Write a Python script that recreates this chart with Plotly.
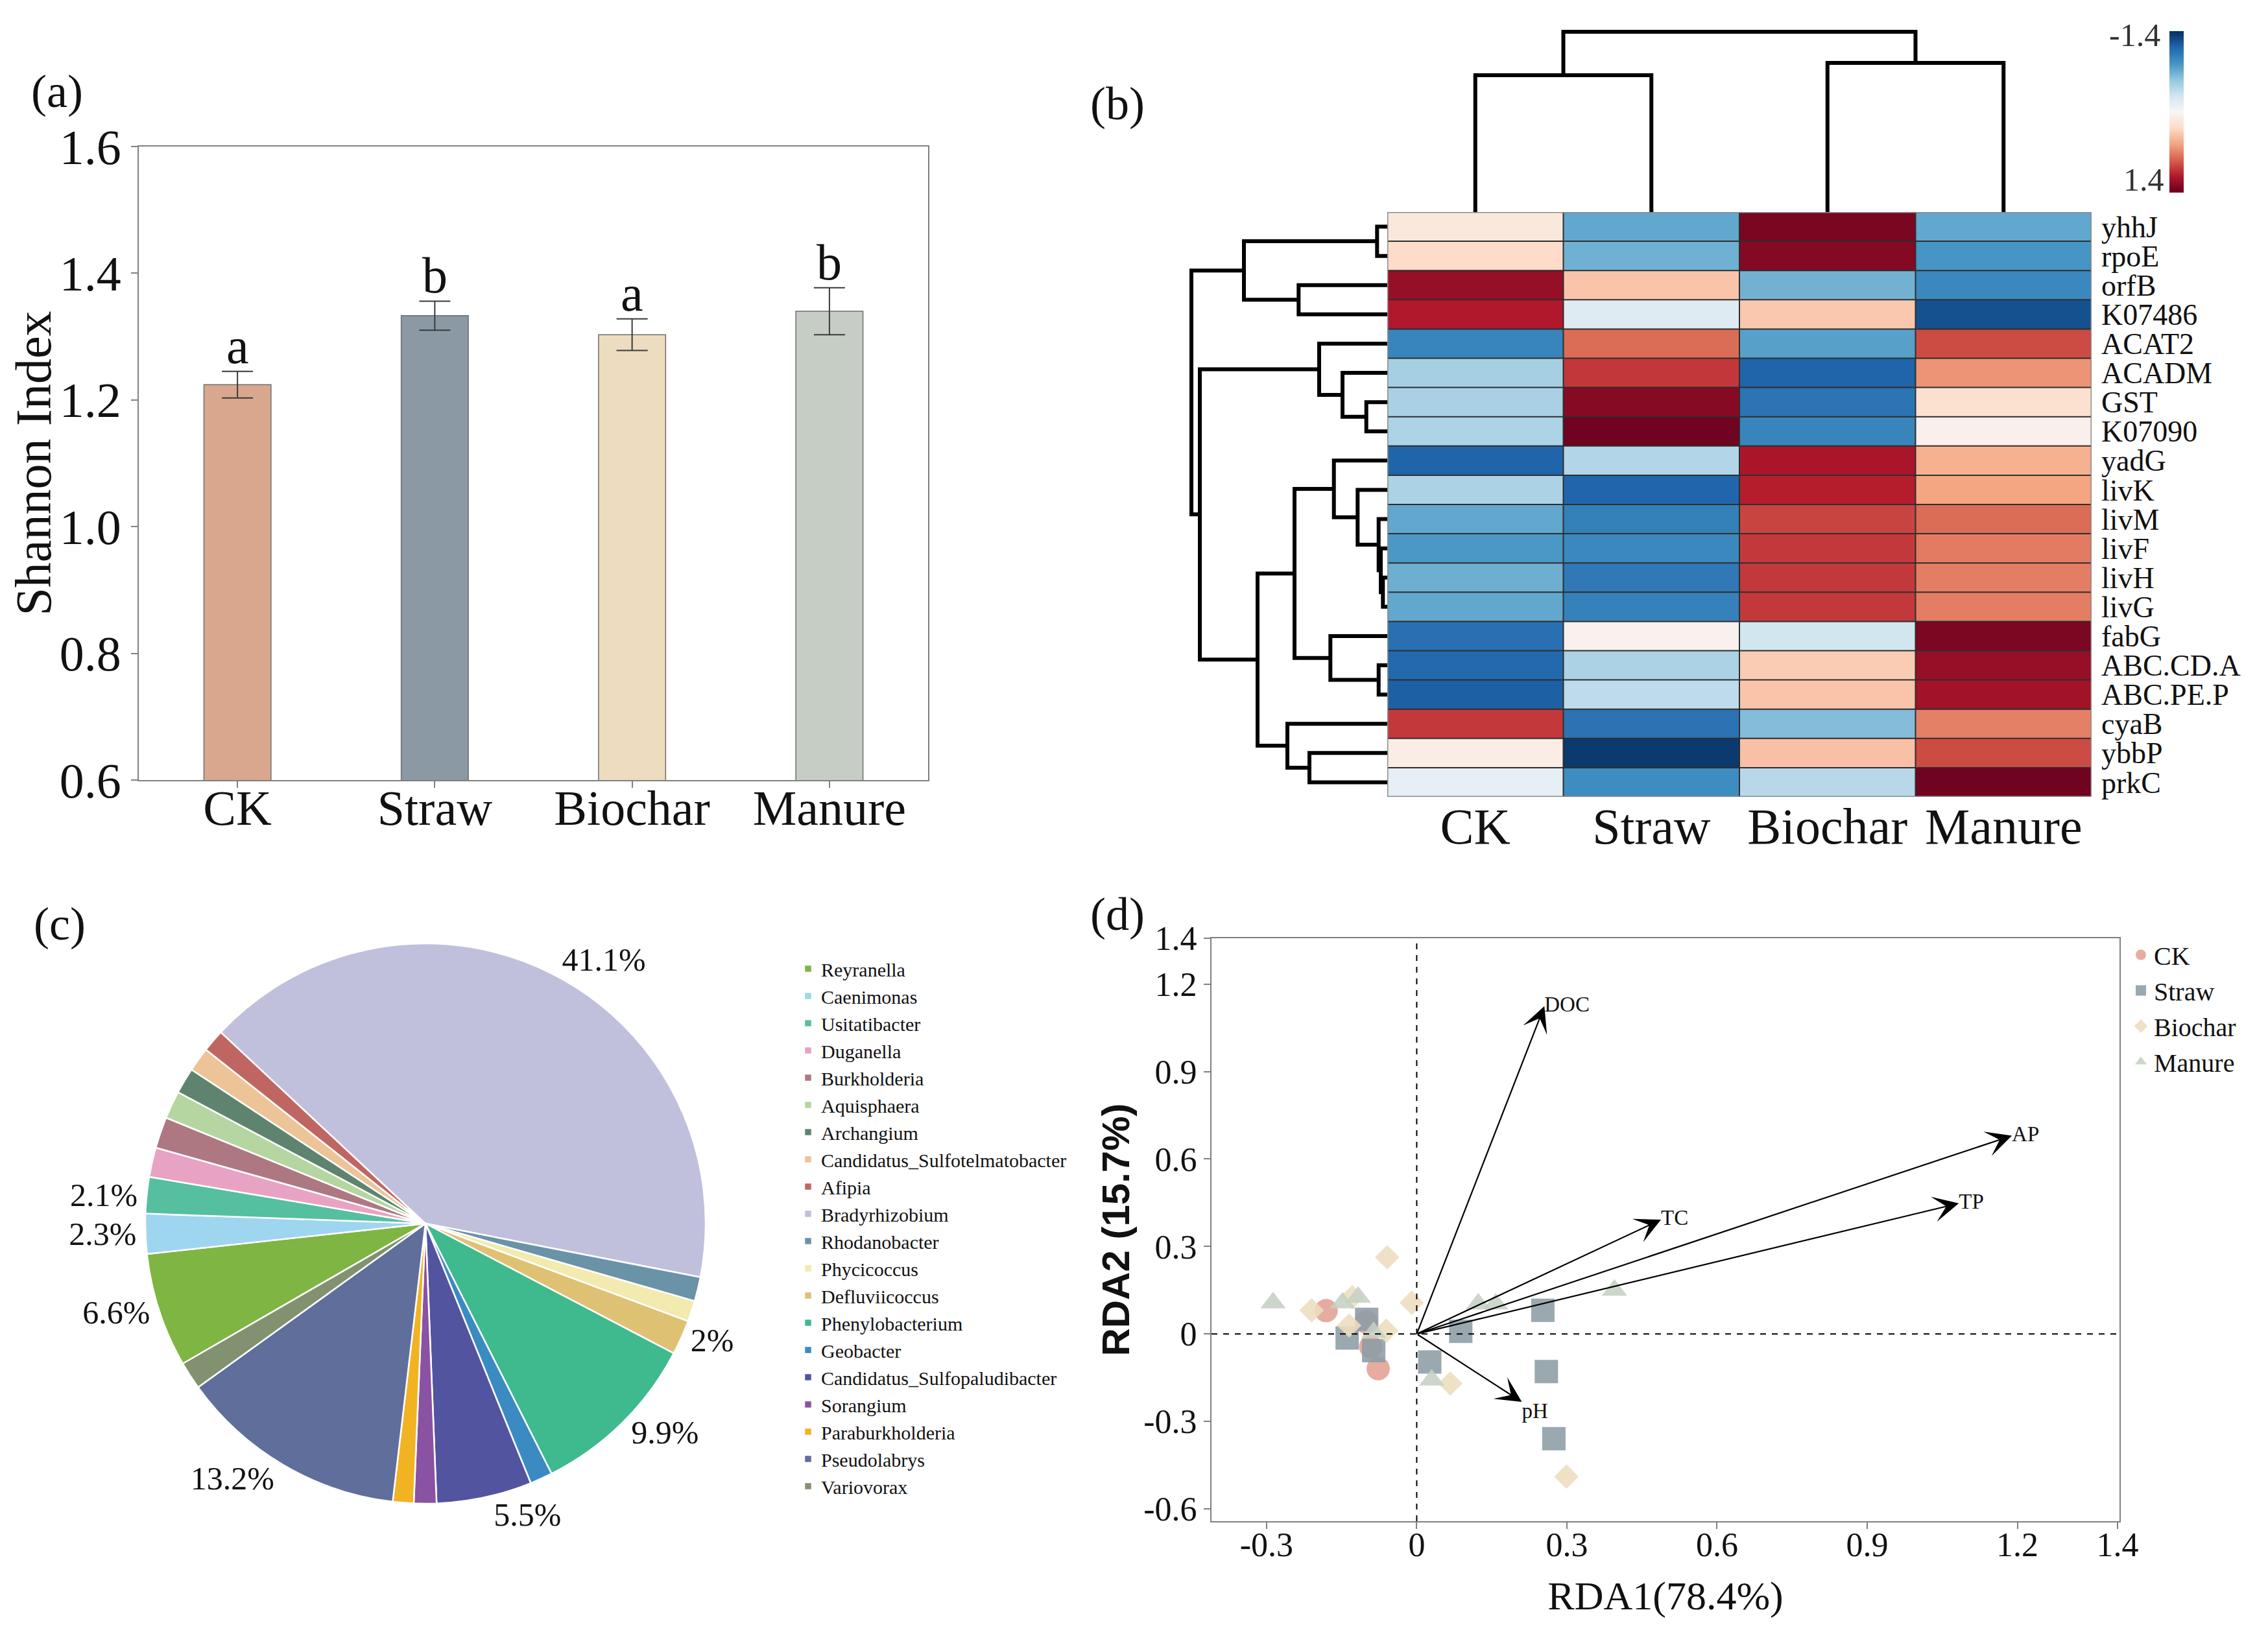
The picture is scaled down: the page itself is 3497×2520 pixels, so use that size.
import numpy as np
import plotly.graph_objects as go

W, H = 3497, 2520
OX, OY = 8, 8  # page body margin of the html page
SERIF = "Liberation Serif"


def fx(p):
    return (p - OX) / W


def fy(p):
    return 1 - (p - OY) / H


# ---------------- (a) Shannon index ----------------
treatments = ["CK", "Straw", "Biochar", "Manure"]
shannon_mean = [1.224, 1.333, 1.303, 1.340]
shannon_err = [0.021, 0.023, 0.025, 0.037]
shannon_letters = ["a", "b", "a", "b"]
bar_colors = ["#D8A78E", "#8A99A3", "#EDDCBF", "#C6CDC5"]

# ---------------- (b) heatmap ----------------
genes = ["yhhJ", "rpoE", "orfB", "K07486", "ACAT2", "ACADM", "GST", "K07090",
         "yadG", "livK", "livM", "livF", "livH", "livG", "fabG", "ABC.CD.A",
         "ABC.PE.P", "cyaB", "ybbP", "prkC"]
heat_columns = ["CK", "Straw", "Biochar", "Manure"]
heat_values = [
    [0.15, -0.73, 1.33, -0.73],
    [0.27, -0.68, 1.29, -0.83],
    [1.23, 0.40, -0.67, -0.91],
    [1.12, -0.18, 0.38, -1.23],
    [-0.93, 0.79, -0.77, 0.92],
    [-0.47, 1.00, -1.13, 0.63],
    [-0.46, 1.28, -1.03, 0.22],
    [-0.44, 1.37, -0.93, 0.07],
    [-1.13, -0.42, 1.15, 0.50],
    [-0.45, -1.12, 1.10, 0.56],
    [-0.73, -0.96, 0.95, 0.79],
    [-0.81, -0.91, 0.99, 0.73],
    [-0.69, -1.00, 0.99, 0.72],
    [-0.73, -0.95, 0.99, 0.72],
    [-1.06, 0.06, -0.27, 1.32],
    [-1.10, -0.45, 0.36, 1.22],
    [-1.15, -0.37, 0.40, 1.18],
    [0.99, -1.04, -0.61, 0.71],
    [0.10, -1.35, 0.42, 0.92],
    [-0.13, -0.88, -0.39, 1.37],
]
# linkage: (child a, child b, merge height); ints refer to earlier merges
gene_links = [
    ("yhhJ", "rpoE", 15.7),      # 0
    ("orfB", "K07486", 136.7),   # 1
    (0, 1, 221),                 # 2
    ("GST", "K07090", 32.3),     # 3
    ("ACADM", 3, 69),            # 4
    ("ACAT2", 4, 105),           # 5
    ("livH", "livG", 6.7),       # 6
    ("livF", 6, 10.0),           # 7
    ("livM", 7, 13.3),           # 8
    ("livK", 8, 45.7),           # 9
    ("yadG", 9, 82.3),           # 10
    ("ABC.CD.A", "ABC.PE.P", 13.3),  # 11
    ("fabG", 11, 87.7),          # 12
    (10, 12, 143),               # 13
    ("ybbP", "prkC", 120),       # 14
    ("cyaB", 14, 154),           # 15
    (13, 15, 200),               # 16
    (5, 16, 289),                # 17
    (2, 17, 302),                # 18
]
column_links = [
    ("CK", "Straw", 211),
    ("Biochar", "Manure", 230),
    (0, 1, 278),
]
colorbar_min, colorbar_max = -1.4, 1.4

# ---------------- (c) pie ----------------
genera = ["Reyranella", "Caenimonas", "Usitatibacter", "Duganella", "Burkholderia",
          "Aquisphaera", "Archangium", "Candidatus_Sulfotelmatobacter", "Afipia",
          "Bradyrhizobium", "Rhodanobacter", "Phycicoccus", "Defluviicoccus",
          "Phenylobacterium", "Geobacter", "Candidatus_Sulfopaludibacter",
          "Sorangium", "Paraburkholderia", "Pseudolabrys", "Variovorax"]
genus_abundance = [6.6, 2.3, 2.1, 1.7, 1.8, 1.6, 1.5, 1.4, 1.3, 41.1,
                   1.4, 1.2, 2.0, 9.9, 1.3, 5.5, 1.3, 1.2, 13.2, 1.6]
genus_pct_labels = ["6.6%", "2.3%", "2.1%", "", "", "", "", "", "", "41.1%",
                    "", "", "2%", "9.9%", "", "5.5%", "", "", "13.2%", ""]
genus_colors = ["#7FB542", "#9DD6EE", "#55BFA0", "#E8A3C4", "#AD7882",
                "#B5D6A0", "#5E8470", "#EDC497", "#C06662", "#C0C0DD",
                "#6A93A8", "#F2EAAE", "#DFC173", "#3FB98E", "#3A8BC2",
                "#5254A0", "#8A52A2", "#F2B323", "#5F6E9B", "#829170"]

# ---------------- (d) RDA ----------------
ck_rda1 = [-0.181, -0.101, -0.092, -0.077]
ck_rda2 = [0.080, 0.041, -0.044, -0.119]
straw_rda1 = [-0.100, -0.139, -0.086, 0.026, 0.088, 0.252, 0.259, 0.274]
straw_rda2 = [0.050, -0.014, -0.057, -0.096, 0.009, 0.081, -0.129, -0.359]
biochar_rda1 = [-0.059, -0.210, -0.135, -0.129, -0.010, -0.061, 0.067, 0.299]
biochar_rda2 = [0.263, 0.081, 0.029, 0.126, 0.107, 0.011, -0.170, -0.489]
manure_rda1 = [-0.287, -0.148, -0.117, -0.086, 0.030, 0.123, 0.158, 0.395]
manure_rda2 = [0.107, 0.107, 0.126, 0.005, -0.158, 0.103, 0.103, 0.150]
env_factors = ["DOC", "TC", "AP", "TP", "pH"]
env_rda1 = [0.255, 0.488, 1.189, 1.083, 0.210]
env_rda2 = [1.124, 0.392, 0.680, 0.448, -0.233]
rda_x_ticks = [-0.3, 0, 0.3, 0.6, 0.9, 1.2, 1.4]
rda_y_ticks = [-0.6, -0.3, 0, 0.3, 0.6, 0.9, 1.2]

RDBU = [[0.0, "#053061"], [0.1, "#2166ac"], [0.2, "#4393c3"], [0.3, "#92c5de"],
        [0.4, "#d1e5f0"], [0.5, "#f7f7f7"], [0.6, "#fddbc7"], [0.7, "#f4a582"],
        [0.8, "#d6604d"], [0.9, "#b2182b"], [1.0, "#67001f"]]


def dendrogram_paths(links, leaf_order):
    pos = {name: i for i, name in enumerate(leaf_order)}
    hgt = {name: 0.0 for name in leaf_order}
    p_list, h_list = [], []
    for idx, (a, b, h) in enumerate(links):
        pa, pb = pos[a], pos[b]
        ha, hb = hgt[a], hgt[b]
        p_list += [pa, pa, pb, pb, None]
        h_list += [ha, h, h, hb, None]
        pos[idx] = (pa + pb) / 2
        hgt[idx] = h
    return p_list, h_list


fig = go.Figure()

# (a) bars
fig.add_trace(go.Bar(
    x=treatments, y=shannon_mean, width=0.34,
    marker=dict(color=bar_colors, line=dict(color="#6E6E6E", width=1.5)),
    error_y=dict(type="data", array=shannon_err, color="#3A3A3A", thickness=2, width=24),
    xaxis="x", yaxis="y", showlegend=False))

# (b) heatmap
fig.add_trace(go.Heatmap(
    z=heat_values, x=list(range(len(heat_columns))), y=list(range(len(genes))),
    colorscale=RDBU, zmin=colorbar_min, zmax=colorbar_max, showscale=False,
    xaxis="x2", yaxis="y2"))

col_p, col_h = dendrogram_paths(column_links, heat_columns)
fig.add_trace(go.Scatter(x=col_p, y=col_h, mode="lines",
                         line=dict(color="black", width=6),
                         xaxis="x3", yaxis="y3", showlegend=False, hoverinfo="skip"))
row_p, row_h = dendrogram_paths(gene_links, genes)
fig.add_trace(go.Scatter(x=row_h, y=row_p, mode="lines",
                         line=dict(color="black", width=6),
                         xaxis="x4", yaxis="y4", showlegend=False, hoverinfo="skip"))

cb_vals = np.linspace(colorbar_min, colorbar_max, 201)
fig.add_trace(go.Heatmap(
    z=[[v] for v in cb_vals], x=[0], y=cb_vals, colorscale=RDBU,
    zmin=colorbar_min, zmax=colorbar_max, showscale=False,
    xaxis="x6", yaxis="y6", hoverinfo="skip"))

# (c) pie
fig.add_trace(go.Pie(
    labels=genera, values=genus_abundance, sort=False, direction="clockwise",
    rotation=240, text=genus_pct_labels, textinfo="text", textposition="outside",
    textfont=dict(family=SERIF, size=50, color="#111111"),
    marker=dict(colors=genus_colors, line=dict(color="white", width=2.5)),
    domain=dict(x=[fx(224), fx(1088)], y=[fy(2319), fy(1455)]),
    legend="legend", showlegend=True, automargin=False))

# (d) RDA
rda_sets = [
    ("CK", ck_rda1, ck_rda2, "circle", 36, "#E2A094"),
    ("Straw", straw_rda1, straw_rda2, "square", 36, "#8C9CA5"),
    ("Biochar", biochar_rda1, biochar_rda2, "diamond", 29, "#EDDDBE"),
    ("Manure", manure_rda1, manure_rda2, "triangle-up", 34, "#C5D0C4"),
]
for name, xs, ys, sym, size, col in rda_sets:
    fig.add_trace(go.Scatter(
        x=xs, y=ys, mode="markers", name=name,
        marker=dict(symbol=sym, size=size, color=col, opacity=0.88, line=dict(width=0)),
        xaxis="x5", yaxis="y5", legend="legend2"))

fig.add_trace(go.Scatter(
    x=env_rda1, y=env_rda2, mode="text", text=env_factors,
    textposition=["middle right", "middle right", "middle right", "middle right", "bottom right"],
    textfont=dict(family=SERIF, size=33, color="#111111"),
    xaxis="x5", yaxis="y5", showlegend=False, cliponaxis=False))

annotations = []
for t, m, e, l in zip(treatments, shannon_mean, shannon_err, shannon_letters):
    annotations.append(dict(x=t, y=m + e, xref="x", yref="y", text=l, showarrow=False,
                            yanchor="bottom", yshift=-6,
                            font=dict(family=SERIF, size=78, color="#111111")))
for name, ex, ey in zip(env_factors, env_rda1, env_rda2):
    annotations.append(dict(x=ex, y=ey, ax=0, ay=0, xref="x5", yref="y5",
                            axref="x5", ayref="y5", text="", showarrow=True,
                            arrowhead=3, arrowsize=3.0, arrowwidth=2.2, arrowcolor="black"))
annotations.append(dict(x=0, y=colorbar_min, xref="x6 domain", yref="y6", text="-1.4",
                        showarrow=False, xanchor="right", yanchor="middle", xshift=-12,
                        yshift=-6, font=dict(family=SERIF, size=50, color="#333333")))
annotations.append(dict(x=0, y=colorbar_max, xref="x6 domain", yref="y6", text="1.4",
                        showarrow=False, xanchor="right", yanchor="bottom", xshift=-6,
                        yshift=-10, font=dict(family=SERIF, size=50, color="#333333")))
for lab, cx, cy in [("(a)", 88, 141), ("(b)", 1723, 160), ("(c)", 92, 1425), ("(d)", 1723, 1410)]:
    annotations.append(dict(x=fx(cx), y=fy(cy), xref="paper", yref="paper", text=lab,
                            showarrow=False, xanchor="center", yanchor="middle",
                            font=dict(family=SERIF, size=72, color="#111111")))

shapes = []
nr, nc = len(genes), len(heat_columns)
for k in range(1, nc):
    shapes.append(dict(type="line", xref="x2", yref="y2", x0=k - 0.5, x1=k - 0.5,
                       y0=-0.5, y1=nr - 0.5, line=dict(color="#2E2E2E", width=2), layer="above"))
for r in range(1, nr):
    shapes.append(dict(type="line", xref="x2", yref="y2", x0=-0.5, x1=nc - 0.5,
                       y0=r - 0.5, y1=r - 0.5, line=dict(color="#2E2E2E", width=2), layer="above"))
shapes.append(dict(type="rect", xref="x2", yref="y2", x0=-0.5, x1=nc - 0.5, y0=-0.5,
                   y1=nr - 0.5, line=dict(color="#8C8C8C", width=3), layer="above"))
shapes.append(dict(type="line", xref="x5", yref="y5 domain", x0=0, x1=0, y0=0, y1=1,
                   line=dict(color="black", width=2, dash="dash")))
shapes.append(dict(type="line", xref="x5 domain", yref="y5", x0=0, x1=1, y0=0, y1=0,
                   line=dict(color="black", width=2, dash="dash")))

axis_common = dict(showline=True, mirror=True, linecolor="#808080", linewidth=2,
                   ticks="outside", ticklen=10, tickwidth=2, tickcolor="#808080",
                   showgrid=False, zeroline=False, automargin=False)
hidden = dict(visible=False, showgrid=False, zeroline=False, fixedrange=True,
              automargin=False)

fig.update_layout(
    template="none",
    width=W, height=H, margin=dict(l=0, r=0, t=0, b=0, autoexpand=False),
    paper_bgcolor="white", plot_bgcolor="white",
    font=dict(family=SERIF, color="#111111"),
    xaxis=dict(domain=[fx(214), fx(1431)], anchor="y", range=[-0.5, 3.5],
               tickfont=dict(size=76), ticklabelstandoff=-34, **axis_common),
    yaxis=dict(domain=[fy(1203), fy(226)], anchor="x", range=[0.6, 1.6], dtick=0.2,
               tickformat=".1f", tickfont=dict(size=76),
               title=dict(text="Shannon Index", font=dict(size=78), standoff=18),
               **axis_common),
    xaxis2=dict(domain=[fx(2139), fx(3225)], anchor="y2", range=[-0.5, nc - 0.5],
                tickvals=list(range(nc)), ticktext=heat_columns, tickfont=dict(size=78),
                ticks="", showgrid=False, zeroline=False, ticklabelstandoff=-7,
                automargin=False),
    yaxis2=dict(domain=[fy(1229), fy(327)], anchor="x2", range=[nr - 0.5, -0.5],
                tickvals=list(range(nr)), ticktext=genes, side="right",
                tickfont=dict(size=46), ticks="", showgrid=False, zeroline=False,
                ticklabelstandoff=14, automargin=False),
    xaxis3=dict(domain=[fx(2139), fx(3225)], anchor="y3", range=[-0.5, nc - 0.5], **hidden),
    yaxis3=dict(domain=[fy(327), fy(30)], anchor="x3", range=[0, 297], **hidden),
    xaxis4=dict(domain=[fx(2139 - 315), fx(2139)], anchor="y4", range=[315, 0], **hidden),
    yaxis4=dict(domain=[fy(1229), fy(327)], anchor="x4", range=[nr - 0.5, -0.5], **hidden),
    xaxis5=dict(domain=[fx(1868), fx(3268)], anchor="y5", range=[-0.41, 1.404],
                tickvals=rda_x_ticks, ticktext=[("%g" % v) for v in rda_x_ticks],
                tickfont=dict(size=52), ticklabelstandoff=-20,
                title=dict(text="RDA1(78.4%)", font=dict(size=62), standoff=28),
                **axis_common),
    yaxis5=dict(domain=[fy(2346), fy(1447)], anchor="x5", range=[-0.642, 1.357],
                tickvals=rda_y_ticks + [1.357],
                ticktext=[("%g" % v) for v in rda_y_ticks] + ["1.4"],
                tickfont=dict(size=52),
                title=dict(text="RDA2 (15.7%)",
                           font=dict(family="Liberation Sans", size=60, weight="bold"),
                           standoff=2),
                **axis_common),
    xaxis6=dict(domain=[fx(3345), fx(3367)], anchor="y6", range=[-0.5, 0.5], **hidden),
    yaxis6=dict(domain=[fy(297), fy(48)], anchor="x6",
                range=[colorbar_max, colorbar_min], **hidden),
    legend=dict(x=fx(1226), y=fy(1468), xanchor="left", yanchor="top",
                font=dict(family=SERIF, size=30, color="#111111"),
                bgcolor="rgba(0,0,0,0)", tracegroupgap=0, itemclick=False),
    legend2=dict(x=fx(3281), y=fy(1440), xanchor="left", yanchor="top",
                 font=dict(family=SERIF, size=40, color="#111111"),
                 bgcolor="rgba(0,0,0,0)", tracegroupgap=0, itemclick=False),
    annotations=annotations, shapes=shapes,
)

fig.write_html("out.html")
